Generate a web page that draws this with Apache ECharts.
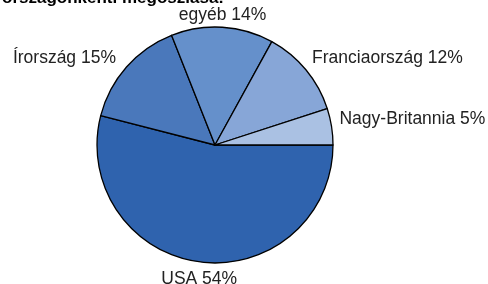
<!DOCTYPE html>
<html>
<head>
<meta charset="utf-8">
<script src="https://cdn.jsdelivr.net/npm/echarts@6/dist/echarts.min.js"></script>
<style>
  html, body { margin: 0; padding: 0; background: #fff; }
  #chart { width: 488px; height: 284px; }
</style>
</head>
<body>
<div id="chart"></div>
<script>
const countries = ['USA', 'Írország', 'egyéb', 'Franciaország', 'Nagy-Britannia']
const shares = [54, 15, 14, 12, 5]
const sliceColors = ['#2f63ae', '#4a78bb', '#6590cb', '#87a6d7', '#aac1e3']

const pieCenter = [215, 145]
const pieRadius = 118

const chart = echarts.init(document.getElementById('chart'))

// mid angle of each slice, clockwise from 3 o'clock (screen coords, y down)
const total = shares.reduce((a, b) => a + b, 0)
const midAngles = []
let acc = 0
shares.forEach(v => {
  midAngles.push(((acc + v / 2) / total) * Math.PI * 2)
  acc += v
})

// Excel-like placement of the outside-end labels
function placeLabel(params) {
  const a = midAngles[params.dataIndex]
  const cos = Math.cos(a)
  const sin = Math.sin(a)
  if (Math.abs(cos) < 0.3) {
    const d = pieRadius + (sin > 0 ? 8 : 3)
    return {
      x: pieCenter[0] + d * cos,
      y: pieCenter[1] + d * sin,
      align: 'center',
      verticalAlign: sin > 0 ? 'top' : 'bottom'
    }
  }
  const d = pieRadius + (cos > 0 ? 8 : 14)
  return {
    x: pieCenter[0] + d * cos,
    y: pieCenter[1] + d * sin + (cos > 0 ? 2.5 : 0),
    align: cos > 0 ? 'left' : 'right',
    verticalAlign: cos > 0 ? 'bottom' : 'middle'
  }
}

chart.setOption({
  animation: false,
  title: {
    text: 'A vendégek országonkénti megoszlása:',
    right: 259,
    top: -15,
    textStyle: {
      fontFamily: 'Liberation Sans',
      fontSize: 17,
      fontWeight: 'bold',
      color: '#000'
    }
  },
  series: [
    {
      type: 'pie',
      center: pieCenter,
      radius: pieRadius,
      startAngle: 0,
      clockwise: true,
      data: countries.map((name, i) => ({
        name,
        value: shares[i],
        itemStyle: { color: sliceColors[i] }
      })),
      itemStyle: {
        borderColor: '#000',
        borderWidth: 1.3
      },
      label: {
        show: true,
        position: 'outside',
        formatter: '{b} {c}%',
        fontFamily: 'Liberation Sans',
        fontSize: 17.5,
        color: '#222',
        overflow: 'none'
      },
      labelLine: { show: false },
      labelLayout: placeLabel,
      emphasis: { disabled: true }
    }
  ]
})
</script>
</body>
</html>
